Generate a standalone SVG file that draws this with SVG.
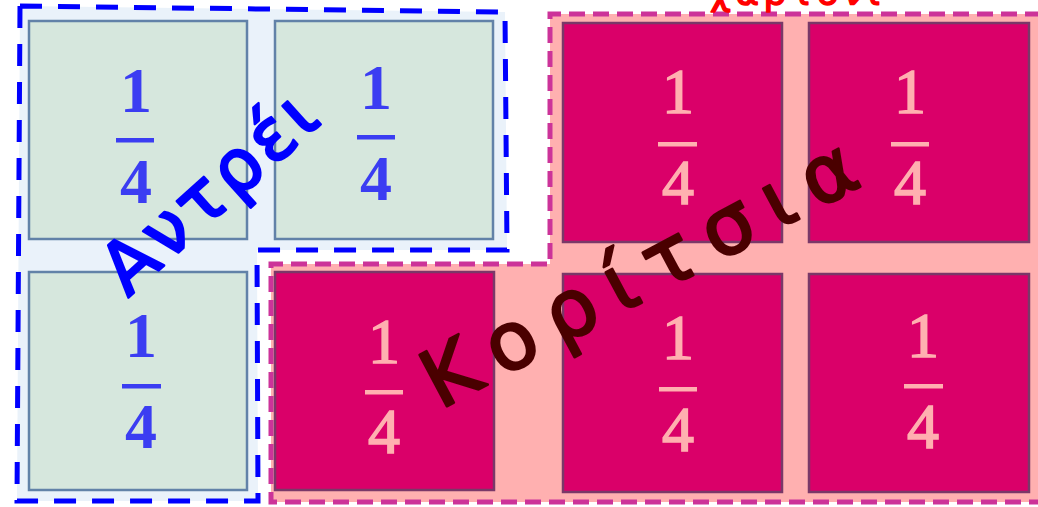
<svg xmlns="http://www.w3.org/2000/svg" width="1038" height="507" viewBox="0 0 1038 507">
<style>
.gcell{fill:#D6E7DD;stroke:#6282A8;stroke-width:2.5}
.mcell{fill:#DA0069;stroke:#7A3868;stroke-width:2.5}
.fb{font-family:"Liberation Serif","DejaVu Serif",serif;font-weight:bold;font-size:64px;fill:#3B3DF2;text-anchor:middle}
.fp{font-family:"Liberation Serif","DejaVu Serif",serif;font-size:64px;fill:#FFB0B0;stroke:#FFB0B0;stroke-width:1.6;text-anchor:middle}
.barb{fill:#3B3DF2}
.barp{fill:#FFB0B0}
.hand{font-family:"DejaVu Sans","Noto Sans",sans-serif;stroke-linejoin:round;stroke-linecap:round}
</style>
<rect width="1038" height="507" fill="#FFFFFF"/>
<g id="pink-region">
<path d="M550,14 L1045,14 L1045,502 L271,502 L271,264 L550,264 Z" fill="#FFB0B0"/>
<path d="M1045,502 L271,502 L271,264 L550,264 L550,14 L1045,14" fill="none" stroke="#CC3399" stroke-width="5" stroke-dasharray="16 8"/>
</g>
<g id="blue-region">
<path d="M20,6 L505,12 L507,250 L257,250 L258,501 L17,501 Z" fill="#EAF2FA" stroke="#0000FF" stroke-width="5" stroke-dasharray="22 16"/>
</g>
<g id="cell-g1">
<rect class="gcell" x="29" y="21" width="218" height="218"/>
<text class="fb" x="136" y="112">1</text>
<rect class="barb" x="116" y="138" width="38" height="4.5"/>
<text class="fb" x="136" y="203">4</text>
</g>
<g id="cell-g2">
<rect class="gcell" x="275" y="21" width="218" height="218"/>
<text class="fb" x="376" y="109">1</text>
<rect class="barb" x="357" y="135" width="38" height="4.5"/>
<text class="fb" x="376" y="200">4</text>
</g>
<g id="cell-g3">
<rect class="gcell" x="29" y="272" width="218" height="218"/>
<text class="fb" x="141" y="357">1</text>
<rect class="barb" x="122" y="384" width="39" height="4.5"/>
<text class="fb" x="141" y="448">4</text>
</g>
<g id="cell-m1">
<rect class="mcell" x="275" y="272" width="219" height="218"/>
<text class="fp" x="384" y="363">1</text>
<rect class="barp" x="365" y="390" width="38" height="4.5"/>
<text class="fp" x="384" y="453">4</text>
</g>
<g id="cell-m2">
<rect class="mcell" x="563" y="23" width="219" height="219"/>
<text class="fp" x="678" y="113">1</text>
<rect class="barp" x="658" y="142" width="39" height="4.5"/>
<text class="fp" x="678" y="204">4</text>
</g>
<g id="cell-m3">
<rect class="mcell" x="809" y="23" width="220" height="219"/>
<text class="fp" x="910" y="113">1</text>
<rect class="barp" x="891" y="142" width="38" height="4.5"/>
<text class="fp" x="910" y="204">4</text>
</g>
<g id="cell-m4">
<rect class="mcell" x="563" y="274" width="219" height="218"/>
<text class="fp" x="678" y="359">1</text>
<rect class="barp" x="659" y="387" width="38" height="4.5"/>
<text class="fp" x="678" y="451">4</text>
</g>
<g id="cell-m5">
<rect class="mcell" x="809" y="274" width="220" height="218"/>
<text class="fp" x="923" y="357">1</text>
<rect class="barp" x="904" y="384" width="39" height="4.5"/>
<text class="fp" x="923" y="448">4</text>
</g>
<g id="label-boys">
<text class="hand" transform="translate(128,298) rotate(-42)" font-size="72" fill="#0000FF" stroke="#0000FF" stroke-width="2.5" textLength="262" lengthAdjust="spacing">Αντρέι</text>
</g>
<g id="label-girls">
<text class="hand" transform="translate(440,410) rotate(-28)" font-size="80" fill="#4A0000" stroke="#4A0000" stroke-width="2.5" textLength="480" lengthAdjust="spacing">Κορίτσια</text>
</g>
<g id="label-top">
<text class="hand" x="710" y="5" font-size="36" fill="#FF0000" stroke="#FF0000" stroke-width="1.5" textLength="170" lengthAdjust="spacing">χαρτόνι</text>
</g>
</svg>
